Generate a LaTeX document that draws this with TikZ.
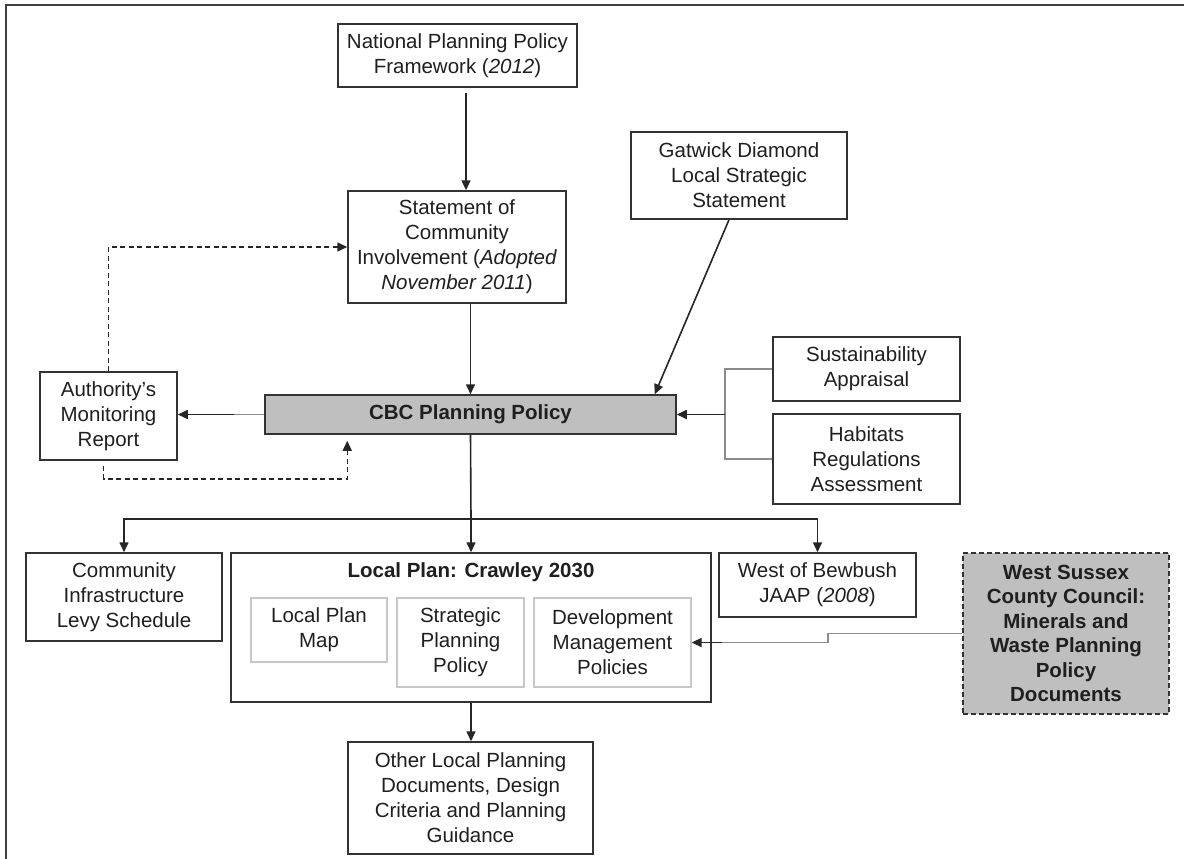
\documentclass[tikz,border=0pt]{standalone}
\usepackage{fontspec}
\setmainfont{Liberation Sans}
\usetikzlibrary{arrows.meta,calc}
\begin{document}
\begin{tikzpicture}[x=1pt,y=-1pt,
  every node/.style={font=\fontsize{20.5}{25}\selectfont, align=center, inner sep=0pt, text=black!88},
  box/.style={draw=black!80, line width=1.5pt, fill=white},
  inbox/.style={draw=black!22, line width=1.3pt},
  conn/.style={draw=black!85, line width=1.6pt},
  arr/.style={conn, -{Triangle[length=10pt,width=9pt]}},
  gconn/.style={draw=black!45, line width=1.7pt},
  dconn/.style={draw=black!85, line width=1.5pt, dash pattern=on 5pt off 3.5pt},
]
\useasboundingbox (0,0) rectangle (1184,859);
\draw[line width=1.8pt, black!75] (6,880) -- (6,5) -- (1200,5);

% nodes
\node[box, minimum width=239pt, minimum height=63pt] (nppf) at (457.5,55.5) {National Planning Policy\\Framework (\textit{2012})};
\node[box, minimum width=218pt, minimum height=112pt] (sci) at (457,247) {Statement of\\Community\\Involvement (\textit{Adopted}\\\textit{November 2011})};
\node[box, minimum width=216pt, minimum height=87pt] (gat) at (739,175.5) {Gatwick Diamond\\Local Strategic\\Statement};
\node[box, fill=gray!50, minimum width=411pt, minimum height=39pt] (cbc) at (470.5,414.5) {\textbf{CBC Planning Policy}};
\node[box, minimum width=137pt, minimum height=88pt] (amr) at (108.5,416) {Authority’s\\Monitoring\\Report};
\node[box, minimum width=187pt, minimum height=64pt] (sus) at (866.5,369) {Sustainability\\Appraisal};
\node[box, minimum width=187pt, minimum height=90pt] (hab) at (866.5,459) {Habitats\\Regulations\\Assessment};
\node[box, minimum width=196pt, minimum height=88pt] (cil) at (124,597) {Community\\Infrastructure\\Levy Schedule};
\node[box, minimum width=480pt, minimum height=149pt] (lp) at (471,627.5) {};
\node (lpt) at (471,572) {\textbf{Local Plan: Crawley 2030}};
\node[inbox, minimum width=136pt, minimum height=64pt] (lpm) at (319,630) {Local Plan\\Map};
\node[inbox, minimum width=127pt, minimum height=89pt] (spp) at (460.5,642.5) {Strategic\\Planning\\Policy};
\node[inbox, minimum width=157pt, minimum height=89pt] (dmp) at (612.5,642.5) {Development\\Management\\Policies};
\node[box, minimum width=197pt, minimum height=64pt] (bew) at (817.5,585) {West of Bewbush\\JAAP (\textit{2008})};
\node[box, fill=gray!50, dash pattern=on 5pt off 3pt, minimum width=206pt, minimum height=161pt, font=\fontsize{20.5}{24.5}\selectfont] (ws) at (1066,633.5) {\textbf{West Sussex}\\\textbf{County Council:}\\\textbf{Minerals and}\\\textbf{Waste Planning}\\\textbf{Policy}\\\textbf{Documents}};
\node[box, minimum width=245pt, minimum height=112pt] (oth) at (470.5,798) {Other Local Planning\\Documents, Design\\Criteria and Planning\\Guidance};

% helper coordinates
\coordinate (n1) at ($(nppf.south)+(8.5,5)$);
\coordinate (s1) at ($(sci.north)+(9,0)$);
\coordinate (g1) at ($(gat.south)+(-10,0)$);
\coordinate (c1) at ($(cbc.north east)+(-22,0)$);
\coordinate (sh) at (725,414.5);
\coordinate (br) at (471,519);
\coordinate (d1) at ($(amr.south)+(-5,5)$);
\coordinate (dt) at ($(cbc.south west)+(83,6)$);
\coordinate (w1) at (828,633.5);
\coordinate (w2) at (828,642.5);

% connectors
\draw[arr] (n1) -- (s1);
\draw[arr] (cbc.north |- sci.south) -- (cbc.north);
\draw[arr] (g1) -- (c1);
\draw[gconn] (sus.west) -| (sh) |- (hab.west);
\draw[arr] (sh) -- (cbc.east);
\draw[gconn] (cbc.west) -- ($(cbc.west)+(-30,0)$);
\draw[arr] ($(cbc.west)+(-30,0)$) -- (cbc.west -| amr.east);
\draw[dconn, -{Triangle[length=10pt,width=9pt]}] (amr.north) |- (sci.west);
\draw[dconn, -{Triangle[length=10pt,width=9pt]}] (d1) -- ++(0,13) -| (dt);
\draw[conn] (cbc.south) -- (br);
\draw[arr] (br) -- (lp.north);
\draw[arr] (br) -| (cil.north);
\draw[arr] (br) -| (bew.north);
\draw[arr] (lp.south) -- (lp.south |- oth.north);
\draw[gconn] (ws.west) -- (w1) -- (w2) -- ($(dmp.east)+(30,0)$);
\draw[arr] ($(dmp.east)+(30,0)$) -- (dmp.east);
\end{tikzpicture}
\end{document}
